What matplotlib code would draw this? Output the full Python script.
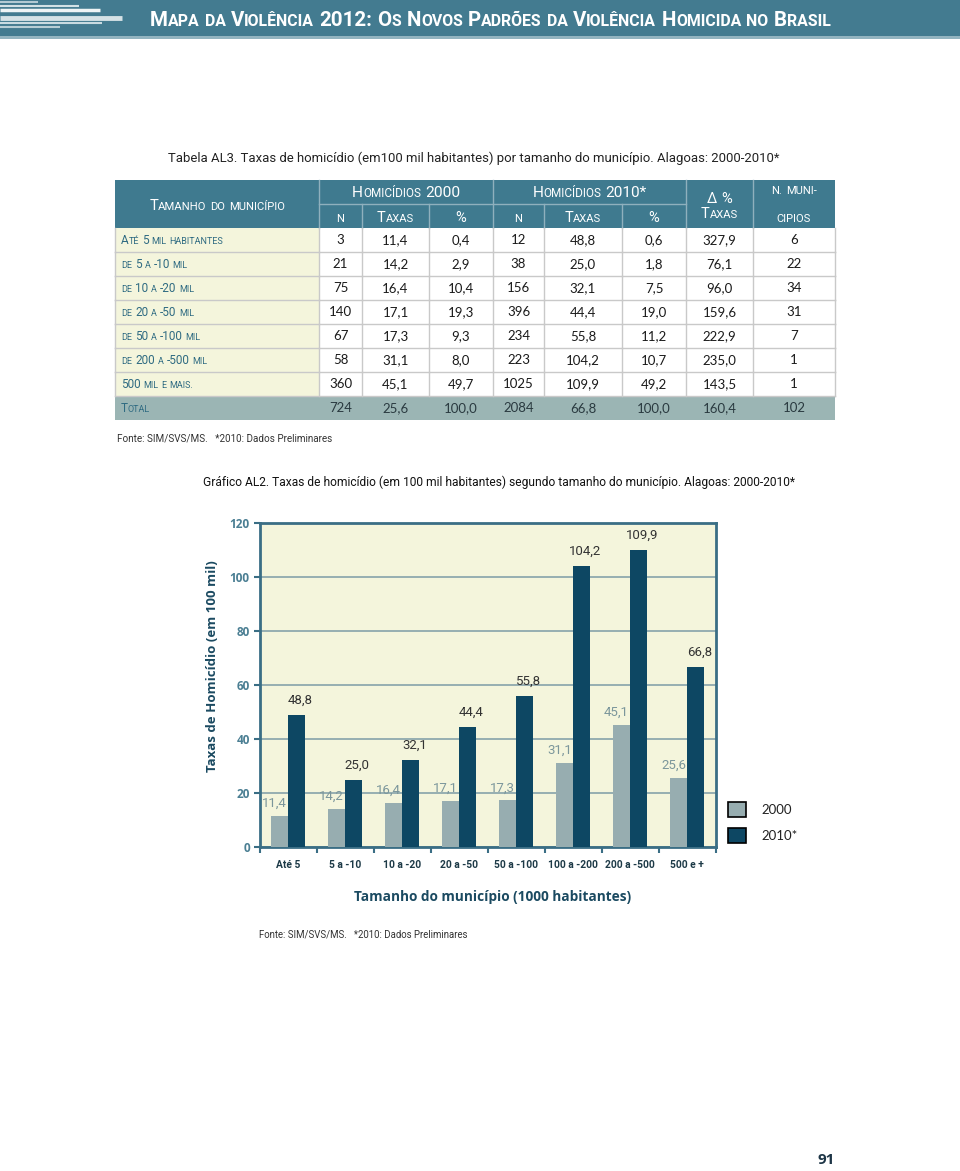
import matplotlib
matplotlib.use('Agg')
import matplotlib.pyplot as plt
from matplotlib import font_manager
from matplotlib.patches import Rectangle, Patch
import numpy as np

# table data (Tabela AL3)
row_labels = ['Até 5 mil habitantes', 'de 5 a -10 mil', 'de 10 a -20 mil', 'de 20 a -50 mil',
              'de 50 a -100 mil', 'de 200 a -500 mil', '500 mil e mais.', 'Total']
n_2000 = [3, 21, 75, 140, 67, 58, 360, 724]
taxa_2000 = [11.4, 14.2, 16.4, 17.1, 17.3, 31.1, 45.1, 25.6]
pct_2000 = [0.4, 2.9, 10.4, 19.3, 9.3, 8.0, 49.7, 100.0]
n_2010 = [12, 38, 156, 396, 234, 223, 1025, 2084]
taxa_2010 = [48.8, 25.0, 32.1, 44.4, 55.8, 104.2, 109.9, 66.8]
pct_2010 = [0.6, 1.8, 7.5, 19.0, 11.2, 10.7, 49.2, 100.0]
delta_taxas = [327.9, 76.1, 96.0, 159.6, 222.9, 235.0, 143.5, 160.4]
n_municipios = [6, 22, 34, 31, 7, 1, 1, 102]

# chart data (Gráfico AL2)
categories = ['Até 5', '5 a -10', '10 a -20', '20 a -50', '50 a -100', '100 a -200', '200 a -500', '500 e +']
rate_2000 = [11.4, 14.2, 16.4, 17.1, 17.3, 31.1, 45.1, 25.6]
rate_2010 = [48.8, 25.0, 32.1, 44.4, 55.8, 104.2, 109.9, 66.8]

names = {f.name for f in font_manager.fontManager.ttflist}
COND = 'Liberation Sans Narrow' if 'Liberation Sans Narrow' in names else 'Roboto'

BAND = '#437b90'
HEAD = '#3f7a8f'
CREAM = '#f4f5dc'
TOTALC = '#9bb5b4'
TEAL_TXT = '#2f6b82'
C2000 = '#97adb0'
C2010 = '#0d4763'
SPINE = '#3a6e85'

W, H = 960, 1171
fig = plt.figure(figsize=(9.6, 11.71), dpi=100)
bg = fig.add_axes([0, 0, 1, 1])
bg.set_xlim(0, W)
bg.set_ylim(H, 0)
bg.axis('off')
renderer = fig.canvas.get_renderer()


def width_of(t):
    return t.get_window_extent(renderer=renderer).width


def fit(t, target):
    # shrink/grow font so the text spans the same width as in the scan
    t.set_fontsize(t.get_fontsize() * target / width_of(t))
    return t


def fmt(v):
    return f'{v:.1f}'.replace('.', ',')


def runs_of(word):
    out = []
    prev = 'big'
    for ch in word:
        if ch.isalpha():
            cls = 'small' if ch.islower() else 'big'
        elif ch.isdigit():
            cls = 'big'
        else:
            cls = prev
        if out and out[-1][1] == cls:
            out[-1][0] += ch.upper()
        else:
            out.append([ch.upper(), cls])
        prev = cls
    return out


def smallcaps(x, y, s, big, small, color, ha='left', weight='normal', family=None, target=None):
    # fake small caps: lower case letters drawn as smaller capitals
    family = family or COND
    sizes = {'big': big, 'small': small}
    pieces = []
    for word in s.split(' '):
        pieces.append([])
        for txt, cls in runs_of(word):
            t = bg.text(0, y, txt, fontsize=sizes[cls], color=color, fontweight=weight,
                        family=family, va='baseline', ha='left')
            pieces[-1].append(t)

    def layout(scale):
        gap = 0.25 * big * scale * 100 / 72
        cur = 0.0
        offs = []
        for word in pieces:
            for t in word:
                offs.append((t, cur))
                cur += width_of(t)
            cur += gap
        return offs, cur - gap

    offs, total = layout(1.0)
    if target:
        k = target / total
        for word in pieces:
            for t in word:
                t.set_fontsize(t.get_fontsize() * k)
        offs, total = layout(k)
    x0 = x - total / 2 if ha == 'center' else x
    for t, off in offs:
        t.set_x(x0 + off)


# ---- page header band
bg.add_patch(Rectangle((0, 0), W, 36, color=BAND, lw=0))
bg.add_patch(Rectangle((0, 36), W, 2.5, color='#93b4c0', lw=0))
for xe, yy, lw, c in [(38, 1.7, 1.2, '#c9dbe1'), (79, 5.7, 1.5, '#d3e2e6'), (100, 10, 2.5, '#eef4f5'),
                      (122, 17.7, 3.5, '#d5e2e6'), (102, 22.7, 1.5, '#c9dbe1'), (60, 26.7, 1.5, '#b8cfd6')]:
    bg.plot([0, xe], [yy, yy], color=c, lw=lw, solid_capstyle='butt')
smallcaps(150, 26, 'Mapa da Violência 2012: Os Novos Padrões da Violência Homicida no Brasil',
          13.5, 10.5, 'white', weight='bold', target=685)

# ---- table
fit(bg.text(168, 158, 'Tabela AL3. Taxas de homicídio (em100 mil habitantes) por tamanho do município. '
            'Alagoas: 2000-2010*', family=COND, fontsize=11.5, color='#222222', va='center'), 615)

cols = [115, 319, 362, 429, 493, 544, 622, 686, 753, 835]
top, sub, hbot, rh = 180, 204, 228, 24
bg.add_patch(Rectangle((cols[0], top), cols[-1] - cols[0], hbot - top, color=HEAD, lw=0))
hl = '#8fb0bd'
for cx in [cols[1], cols[4], cols[7], cols[8]]:
    bg.plot([cx, cx], [top, hbot], color=hl, lw=1)
for cx in [cols[2], cols[3], cols[5], cols[6]]:
    bg.plot([cx, cx], [sub, hbot], color=hl, lw=1)
bg.plot([cols[1], cols[7]], [sub, sub], color=hl, lw=1)

smallcaps((cols[0] + cols[1]) / 2, 210, 'Tamanho do município', 10.5, 8, 'white', ha='center', target=136)
smallcaps((cols[1] + cols[4]) / 2, 197, 'Homicídios 2000', 10.5, 8, 'white', ha='center', target=108)
smallcaps((cols[4] + cols[7]) / 2, 197, 'Homicídios 2010*', 10.5, 8, 'white', ha='center', target=114)
for i, lab in enumerate(['n', 'Taxas', '%', 'n', 'Taxas', '%']):
    smallcaps((cols[i + 1] + cols[i + 2]) / 2, 222, lab, 10.5, 8, 'white', ha='center')
smallcaps((cols[7] + cols[8]) / 2, 203, 'Δ %', 10.5, 8, 'white', ha='center')
smallcaps((cols[7] + cols[8]) / 2, 218, 'Taxas', 10.5, 8, 'white', ha='center')
smallcaps((cols[8] + cols[9]) / 2, 194, 'n. muni-', 10.5, 8, 'white', ha='center')
smallcaps((cols[8] + cols[9]) / 2, 222, 'cipios', 10.5, 8, 'white', ha='center')

grid_c = '#c9c9c9'
nrows = len(row_labels)
for i in range(nrows):
    y0 = hbot + i * rh
    last = i == nrows - 1
    if last:
        bg.add_patch(Rectangle((cols[0], y0), cols[-1] - cols[0], rh, color=TOTALC, lw=0))
    else:
        bg.add_patch(Rectangle((cols[0], y0), cols[1] - cols[0], rh, color=CREAM, lw=0))
        for cx in cols:
            bg.plot([cx, cx], [y0, y0 + rh], color=grid_c, lw=1)
        bg.plot([cols[0], cols[-1]], [y0 + rh, y0 + rh], color=grid_c, lw=1)
    smallcaps(121, y0 + 16, row_labels[i], 8.5, 6.5, TEAL_TXT)
    vals = [str(n_2000[i]), fmt(taxa_2000[i]), fmt(pct_2000[i]), str(n_2010[i]), fmt(taxa_2010[i]),
            fmt(pct_2010[i]), fmt(delta_taxas[i]), str(n_municipios[i])]
    for j, v in enumerate(vals):
        bg.text((cols[j + 1] + cols[j + 2]) / 2, y0 + 16.5, v, ha='center', va='baseline',
                family='Lato', fontsize=9.5, color='#2a3a40' if last else '#1a1a1a')

fit(bg.text(117, 438, 'Fonte: SIM/SVS/MS.   *2010: Dados Preliminares', family=COND, fontsize=9.5,
            color='#333333', va='center'), 215)

# ---- chart
fit(bg.text(203, 482, 'Gráfico AL2. Taxas de homicídio (em 100 mil habitantes) segundo tamanho do '
            'município. Alagoas: 2000-2010*', family=COND, fontsize=11.5, color='#111111',
            va='center'), 598)

ax = fig.add_axes([259.5 / W, 1 - 847 / H, 456 / W, 324 / H])
x = np.arange(len(categories))
bw = 0.29
ax.bar(x - bw / 2, rate_2000, bw, color=C2000, zorder=3, label='2000')
ax.bar(x + bw / 2, rate_2010, bw, color=C2010, zorder=3, label='2010*')
for xi, v in zip(x, rate_2000):
    ax.annotate(fmt(v), (xi - bw / 2 - 0.09, v), xytext=(0, 9), textcoords='offset points',
                ha='center', va='center', family=COND, fontsize=9.5, color='#7b969b')
for xi, v in zip(x, rate_2010):
    ax.annotate(fmt(v), (xi + bw / 2 + 0.07, v), xytext=(0, 10.5), textcoords='offset points',
                ha='center', va='center', family=COND, fontsize=9.5, color='#333333')

ax.set_xlim(-0.5, len(categories) - 0.5)
ax.set_ylim(0, 120)
ax.set_facecolor(CREAM)
ax.set_yticks(range(0, 121, 20), labels=[str(v) for v in range(0, 121, 20)],
              family='Open Sans', fontweight='bold', fontsize=8.5, color='#4b7f93')
ax.set_xticks(np.arange(-0.5, len(categories), 1), labels=[])
ax.set_xticks(x, labels=categories, minor=True, family=COND, fontweight='bold',
              fontsize=7.4, color='#1d3a47')
ax.tick_params(axis='y', length=4, width=1.5, color=SPINE, pad=3)
ax.tick_params(axis='x', which='major', length=4, width=1.5, color=SPINE)
ax.tick_params(axis='x', which='minor', length=0, pad=9)
ax.yaxis.grid(True, color='#86a3aa', lw=1.2, zorder=0)
ax.set_axisbelow(True)
for sp in ax.spines.values():
    sp.set_color(SPINE)
    sp.set_linewidth(2)

handles = [Patch(facecolor=C2000, edgecolor='black', lw=1.2, label='2000'),
           Patch(facecolor=C2010, edgecolor='black', lw=1.2, label='2010*')]
leg = ax.legend(handles=handles, loc='upper left', bbox_to_anchor=((728 - 259.5) / 456, 45 / 324),
                frameon=False, borderpad=0, borderaxespad=0, handlelength=1.35, handleheight=1.35,
                handletextpad=1.2, labelspacing=0.85, prop={'family': 'Lato', 'size': 9.5})
for t in leg.get_texts():
    t.set_color('#222222')

bg.text(213, 666, 'Taxas de Homicídio (em 100 mil)', rotation=90, ha='center', va='center',
        family='Open Sans', fontweight='bold', fontsize=9.5, color='#1b4a61')
bg.text(493, 897, 'Tamanho do município (1000 habitantes)', ha='center', va='center',
        family='Open Sans', fontweight='bold', fontsize=9.8, color='#1b4a61')
fit(bg.text(259, 934, 'Fonte: SIM/SVS/MS.   *2010: Dados Preliminares', family=COND, fontsize=9.5,
            color='#333333', va='center'), 210)

bg.text(826, 1160, '91', ha='center', va='center', family='Open Sans', fontweight='bold',
        fontsize=11, color='#1d3546')

fig.savefig('out.png', dpi=100)
